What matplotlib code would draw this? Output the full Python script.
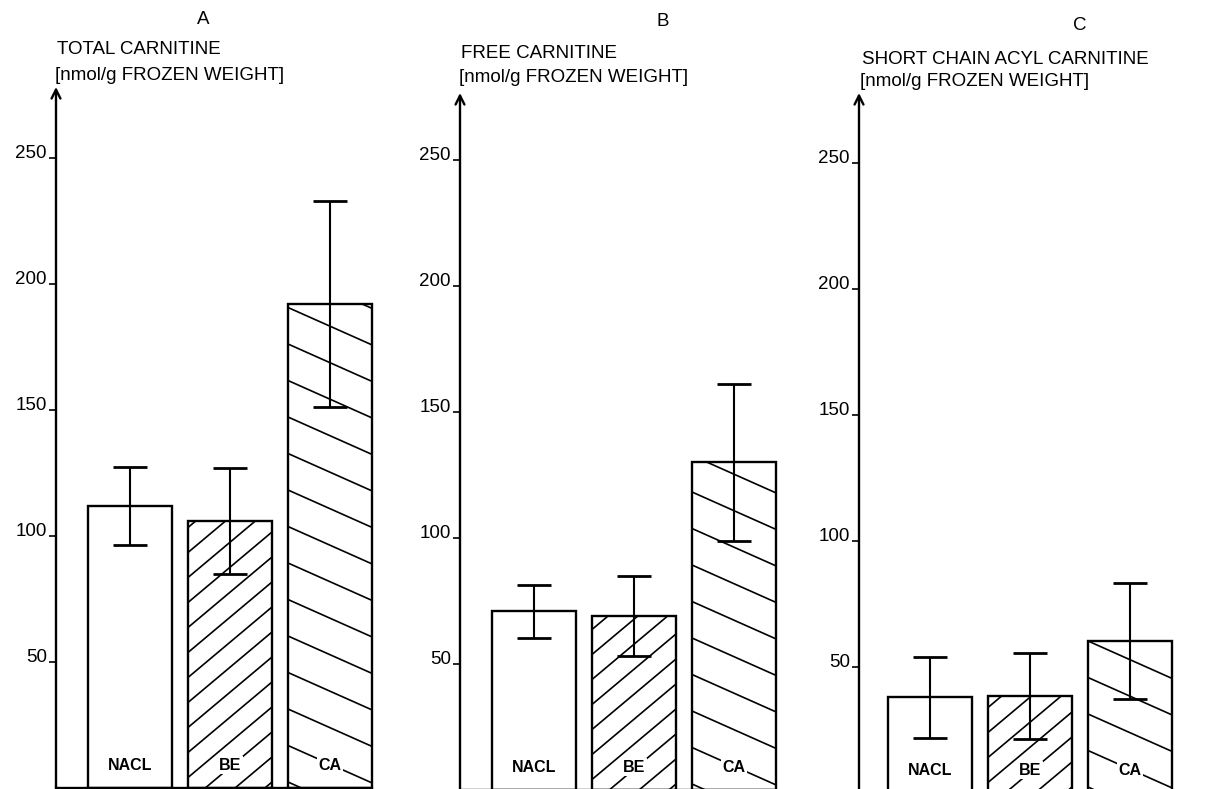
import matplotlib
matplotlib.use("Agg")
import matplotlib.pyplot as plt
import numpy as np
from matplotlib.lines import Line2D

plt.rcParams['font.family'] = ['Liberation Sans', 'DejaVu Sans']

# ---- data -------------------------------------------------------------
groups = ['NACL', 'BE', 'CA']
panel_letters = ['A', 'B', 'C']
panel_titles = ['TOTAL CARNITINE', 'FREE CARNITINE', 'SHORT CHAIN ACYL CARNITINE']
unit_label = '[nmol/g FROZEN WEIGHT]'

total_mean = [112, 106, 192]
total_err = [15.5, 21, 41]
free_mean = [71, 69, 130]
free_err = [10.5, 16, 31]
short_mean = [38, 38.5, 60.5]
short_err = [16, 17, 23]

yticks = [50, 100, 150, 200, 250]

# ---- layout (pixels) --------------------------------------------------
W, H = 1205, 789
PX_PER_UNIT = 2.52        # vertical scale: pixels per nmol/g
PX_PER_STEP = 100.0       # horizontal distance between bar centres
BAR_W = 0.84

panels = [
    # spine x, y of zero, y of arrow tip, offset of first bar centre,
    # letter (x, y), title (x, y line1, y line2)
    dict(sx=56, y0=788, yt=87, off=74, letter=(203, 19), title=(57, 50, 76),
         mean=total_mean, err=total_err),
    dict(sx=460, y0=790, yt=93, off=74, letter=(663, 21), title=(461, 53, 78),
         mean=free_mean, err=free_err),
    dict(sx=859, y0=793, yt=93, off=71, letter=(1080, 26), title=(862, 60, 82),
         mean=short_mean, err=short_err),
]

fig = plt.figure(figsize=(W / 100, H / 100), dpi=100)
fig.patch.set_facecolor('white')


def hatch_bar(ax, rect, angle_deg, spacing_px, lw=1.2):
    """Fill a bar with parallel lines drawn in screen space, clipped to the bar."""
    x0, y0 = rect.get_x(), rect.get_y()
    w, h = rect.get_width(), rect.get_height()
    px0, py0 = ax.transData.transform((x0, y0))
    px1, py1 = ax.transData.transform((x0 + w, y0 + h))
    t = np.tan(np.radians(angle_deg))
    wpx = px1 - px0
    cmin = py0 - max(0.0, t * wpx) - spacing_px
    cmax = py1 + max(0.0, -t * wpx) + spacing_px
    inv = ax.transData.inverted()
    for c in np.arange(cmin + 6, cmax, spacing_px):
        pts = inv.transform(np.array([[px0 - 2, c - 2 * t], [px1 + 2, c + t * (wpx + 2)]]))
        ln = Line2D(pts[:, 0], pts[:, 1], color='black', lw=lw, zorder=2.5,
                    solid_capstyle='butt')
        ax.add_line(ln)
        ln.set_clip_path(rect)


hatch_style = {'NACL': None, 'BE': (40, 25), 'CA': (-24, 36.5)}

for p, letter, title in zip(panels, panel_letters, panel_titles):
    axw = 340
    left = p['sx'] / W
    bottom = (H - p['y0']) / H
    height = (p['y0'] - p['yt']) / H
    ax = fig.add_axes([left, bottom, axw / W, height])
    ax.set_facecolor('none')

    xmin = -p['off'] / PX_PER_STEP
    ax.set_xlim(xmin, xmin + axw / PX_PER_STEP)
    ax.set_ylim(0, (p['y0'] - p['yt']) / PX_PER_UNIT)

    xs = np.arange(len(groups))
    bars = ax.bar(xs, p['mean'], width=BAR_W, color='white', edgecolor='black',
                  linewidth=1.7, zorder=2)
    ax.errorbar(xs, p['mean'], yerr=p['err'], fmt='none', ecolor='black',
                elinewidth=1.5, capsize=12, capthick=2.0, zorder=4)

    for g, rect in zip(groups, bars):
        hs = hatch_style[g]
        if hs is not None:
            hatch_bar(ax, rect, hs[0], hs[1])

    for x, g in zip(xs, groups):
        ax.text(x, 9, g, ha='center', va='center', fontsize=11.5, fontweight='bold',
                zorder=5,
                bbox=dict(facecolor='white', edgecolor='none', pad=1.0))

    # axes: vertical arrow, no right/top spines
    for side in ['top', 'right', 'left']:
        ax.spines[side].set_visible(False)
    ax.spines['bottom'].set_linewidth(1.7)
    ax.spines['bottom'].set_bounds(xmin, 2 + BAR_W / 2)
    ax.annotate('', xy=(0, 1), xytext=(0, 0), xycoords='axes fraction',
                textcoords='axes fraction', annotation_clip=False,
                arrowprops=dict(arrowstyle='->', lw=1.7, color='black',
                                mutation_scale=16, shrinkA=0, shrinkB=0))

    ax.set_xticks([])
    ax.set_yticks(yticks)
    ax.set_yticklabels([str(v) for v in yticks])
    ax.tick_params(axis='y', direction='out', length=5, width=1.2, pad=1.5,
                   labelsize=13.5)
    for lbl in ax.get_yticklabels():
        lbl.set_verticalalignment('baseline')

    # panel letter and axis title
    lx, ly = p['letter']
    fig.text(lx / W, 1 - ly / H, letter, ha='center', va='center', fontsize=13.5)
    tx, ty1, ty2 = p['title']
    fig.text(tx / W, 1 - ty1 / H, title, ha='left', va='center', fontsize=13.5)
    fig.text((tx - 2) / W, 1 - ty2 / H, unit_label, ha='left', va='center',
             fontsize=13.5)

fig.savefig('out.png', dpi=100, facecolor='white')
